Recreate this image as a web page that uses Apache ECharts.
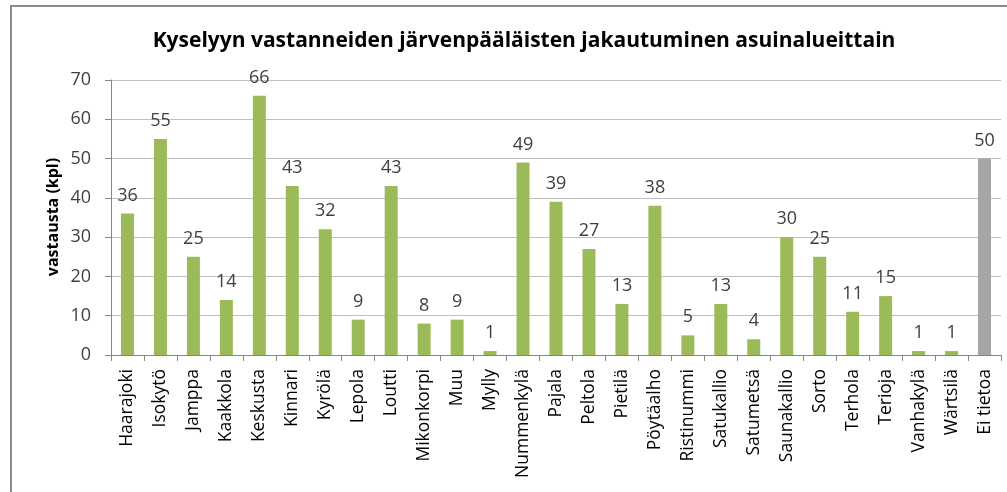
<!DOCTYPE html>
<html>
<head>
<meta charset="utf-8">
<script src="https://cdn.jsdelivr.net/npm/echarts@6/dist/echarts.min.js"></script>
<style>
  html, body { margin: 0; padding: 0; background: #fff; }
  #frame {
    position: absolute; left: 10px; top: 5px; width: 1010px; height: 500px;
    border-left: 2px solid #8c8c8c; border-top: 2px solid #8c8c8c;
  }
  #chart { position: absolute; left: 0; top: 0; width: 1007px; height: 492px; }
</style>
</head>
<body>
<div id="frame"></div>
<div id="chart"></div>
<script>
// alueet ja vastausmäärät
const areas = ["Haarajoki", "Isokytö", "Jamppa", "Kaakkola", "Keskusta", "Kinnari", "Kyrölä",
  "Lepola", "Loutti", "Mikonkorpi", "Muu", "Mylly", "Nummenkylä", "Pajala", "Peltola",
  "Pietilä", "Pöytäalho", "Ristinummi", "Satukallio", "Satumetsä", "Saunakallio", "Sorto",
  "Terhola", "Terioja", "Vanhakylä", "Wärtsilä", "Ei tietoa"];
const counts = [36, 55, 25, 14, 66, 43, 32, 9, 43, 8, 9, 1, 49, 39, 27, 13, 38, 5, 13, 4,
  30, 25, 11, 15, 1, 1, 50];
const yTicks = [0, 10, 20, 30, 40, 50, 60, 70];

const chart = echarts.init(document.getElementById("chart"));
const font = "'Open Sans', sans-serif";

let option = {
  animation: false,
  title: {
    text: "Kyselyyn vastanneiden järvenpääläisten jakautuminen asuinalueittain",
    left: 519,
    top: 26,
    textAlign: "center",
    textStyle: { fontFamily: font, fontSize: 21, fontWeight: "bold", color: "#000" },
  },
  // y-akselin otsikko erikseen, jotta se pysyy paikallaan
  graphic: [
    {
      type: "text",
      x: 53,
      y: 217,
      rotation: Math.PI / 2,
      style: {
        text: "vastausta (kpl)",
        fontFamily: font,
        fontSize: 16,
        fontWeight: "bold",
        fill: "#000",
        align: "center",
        verticalAlign: "middle",
      },
    },
  ],
  grid: { left: 111, right: 6, top: 80, bottom: 137 },
  xAxis: {
    type: "category",
    data: areas,
    axisLine: { lineStyle: { color: "#868686" } },
    axisTick: { show: true, length: 6, lineStyle: { color: "#868686" } },
    axisLabel: {
      rotate: 90,
      interval: 0,
      margin: 14,
      fontFamily: font,
      fontSize: 17.5,
      color: "#000",
    },
  },
  yAxis: {
    type: "value",
    min: yTicks[0],
    max: yTicks[yTicks.length - 1],
    interval: 10,
    axisLine: { show: true, lineStyle: { color: "#868686" } },
    axisTick: { show: true, length: 6, lineStyle: { color: "#868686" } },
    axisLabel: { fontFamily: font, fontSize: 18, color: "#404040", margin: 20 },
    splitLine: { lineStyle: { color: "#bfbfbf" } },
  },
  series: [
    {
      type: "bar",
      barWidth: 13,
      data: counts.map((v, i) => ({
        value: v,
        itemStyle: { color: i === counts.length - 1 ? "#a5a5a5" : "#9bbb59" },
      })),
      label: {
        show: true,
        position: "top",
        distance: 9,
        fontFamily: font,
        fontSize: 18,
        color: "#404040",
      },
    },
  ],
};
chart.setOption(option);
</script>
</body>
</html>
